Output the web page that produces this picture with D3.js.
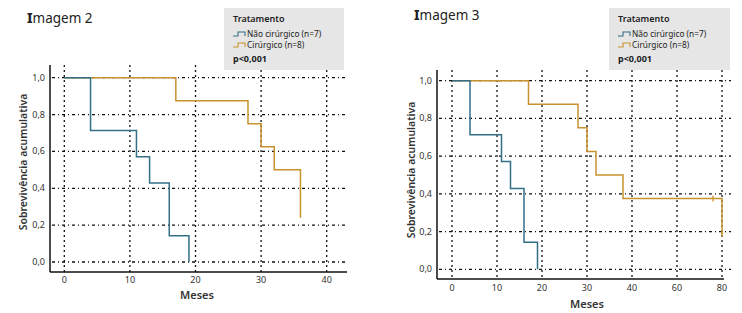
<!DOCTYPE html>
<html>
<head>
<meta charset="utf-8">
<script src="https://cdn.jsdelivr.net/npm/d3@7"></script>
<style>
  body { margin: 0; background: #fff; }
  svg { font-family: "Noto Sans", "DejaVu Sans", sans-serif; }
</style>
</head>
<body>
<svg id="chart" width="742" height="313"></svg>
<script>
// dados
const yTicks = [0, 0.2, 0.4, 0.6, 0.8, 1.0];
const xTicksA = [0, 10, 20, 30, 40];
const xTicksB = [0, 10, 20, 30, 40, 60, 80];

// Não cirúrgico (n=7)
const naoCirTempo = [0, 4, 11, 13, 16, 19];
const naoCirSobrev = [1, 0.714, 0.571, 0.429, 0.143, 0];

// Cirúrgico (n=8) - Imagem 2
const cirTempoA = [0, 17, 28, 30, 32, 36];
const cirSobrevA = [1, 0.875, 0.75, 0.625, 0.5, 0.24];

// Cirúrgico (n=8) - Imagem 3
const cirTempoB = [0, 17, 28, 30, 32, 38, 80];
const cirSobrevB = [1, 0.875, 0.75, 0.625, 0.5, 0.375, 0.1875];
const censuraTempoB = [76, 80];
const censuraSobrevB = [0.375, 0.1875];

const corAzul = "#336f86";
const corLaranja = "#c8922e";

const svg = d3.select("#chart");
const fmt = d => d3.format(".1f")(d).replace(".", ",");

function painel(cfg) {
    const g = svg.append("g");

    const x = d3.scaleLinear().domain(cfg.xDomain).range(cfg.xRange);
    const y = d3.scaleLinear().domain([0, 1]).range([cfg.y0, cfg.y1]);

    // grade vertical
    g.selectAll(".vgrid")
        .data(cfg.xTicks)
        .enter()
        .append("line")
        .attr("x1", d => x(d)).attr("x2", d => x(d))
        .attr("y1", cfg.top).attr("y2", cfg.bottom)
        .attr("stroke", "#111")
        .attr("stroke-width", 1.3)
        .attr("stroke-dasharray", "2,3");

    // grade horizontal
    g.selectAll(".hgrid")
        .data(yTicks)
        .enter()
        .append("line")
        .attr("x1", cfg.left + 2).attr("x2", cfg.gridRight)
        .attr("y1", d => y(d)).attr("y2", d => y(d))
        .attr("stroke", "#111")
        .attr("stroke-width", 1.3)
        .attr("stroke-dasharray", "3,3,1,3");

    // eixos
    g.append("line")
        .attr("x1", cfg.left).attr("x2", cfg.left)
        .attr("y1", cfg.top).attr("y2", cfg.bottom)
        .attr("stroke", "#111").attr("stroke-width", 1.5);
    g.append("line")
        .attr("x1", cfg.left).attr("x2", cfg.right)
        .attr("y1", cfg.bottom).attr("y2", cfg.bottom)
        .attr("stroke", "#111").attr("stroke-width", 1.5);

    // rótulos y
    g.selectAll(".ylab")
        .data(yTicks)
        .enter()
        .append("text")
        .attr("x", cfg.left - 5)
        .attr("y", d => y(d) + 3)
        .attr("text-anchor", "end")
        .style("font-size", "9px")
        .attr("fill", "#333")
        .text(fmt);

    // rótulos x
    g.selectAll(".xlab")
        .data(cfg.xTicks)
        .enter()
        .append("text")
        .attr("x", d => x(d))
        .attr("y", cfg.xLabelY)
        .attr("text-anchor", "middle")
        .style("font-size", "9px")
        .attr("fill", "#333")
        .text(d => d);

    g.append("text")
        .attr("x", cfg.meio)
        .attr("y", cfg.mesesY)
        .attr("text-anchor", "middle")
        .style("font-size", "11px")
        .style("font-weight", "600")
        .attr("fill", "#333")
        .text("Meses");

    g.append("text")
        .attr("transform", `translate(${cfg.yTitleX},${cfg.yTitleY}) rotate(-90)`)
        .attr("text-anchor", "middle")
        .style("font-size", "10.5px")
        .style("font-weight", "600")
        .attr("fill", "#333")
        .text("Sobrevivência acumulativa");

    // curvas
    const linha = d3.line()
        .x(d => x(d[0]))
        .y(d => y(d[1]))
        .curve(d3.curveStepAfter);

    const curvas = [
        { t: cfg.cirTempo, s: cfg.cirSobrev, cor: corLaranja },
        { t: naoCirTempo, s: naoCirSobrev, cor: corAzul }
    ];
    g.selectAll(".curva")
        .data(curvas)
        .enter()
        .append("path")
        .attr("d", c => linha(d3.zip(c.t, c.s)))
        .attr("fill", "none")
        .attr("stroke", c => c.cor)
        .attr("stroke-width", 1.5);

    if (cfg.censuraTempo) {
        g.selectAll(".censura")
            .data(d3.zip(cfg.censuraTempo, cfg.censuraSobrev))
            .enter()
            .append("line")
            .attr("x1", d => x(d[0])).attr("x2", d => x(d[0]))
            .attr("y1", d => y(d[1]) - 3).attr("y2", d => y(d[1]) + 3)
            .attr("stroke", corLaranja)
            .attr("stroke-width", 1.3);
    }

    // título
    const tit = svg.append("text")
        .attr("x", cfg.tituloX)
        .attr("y", cfg.tituloY)
        .style("font-size", "13.5px")
        .attr("fill", "#222");
    tit.append("tspan").style("font-weight", "800").text("I");
    tit.append("tspan").text(cfg.titulo.slice(1));

    // legenda
    const lg = svg.append("g").attr("transform", `translate(${cfg.legX},${cfg.legY})`);
    lg.append("rect")
        .attr("width", cfg.legW).attr("height", 62)
        .attr("fill", "#e6e6e6");
    lg.append("text")
        .attr("x", 9).attr("y", 14)
        .style("font-size", "9px").style("font-weight", "600")
        .attr("fill", "#222")
        .text("Tratamento");
    const itens = [
        { nome: "Não cirúrgico (n=7)", cor: corAzul },
        { nome: "Cirúrgico (n=8)", cor: corLaranja }
    ];
    const it = lg.selectAll(".item")
        .data(itens)
        .enter()
        .append("g")
        .attr("transform", (d, i) => `translate(9,${25 + i * 11})`);
    it.append("path")
        .attr("d", "M0,3H5V-1H12V3")
        .attr("fill", "none")
        .attr("stroke", d => d.cor)
        .attr("stroke-width", 1.1);
    it.append("text")
        .attr("x", 14).attr("y", 3.5)
        .style("font-size", "8.3px")
        .attr("fill", "#222")
        .text(d => d.nome);
    lg.append("text")
        .attr("x", 9).attr("y", 54)
        .style("font-size", "9px").style("font-weight", "700")
        .attr("fill", "#222")
        .text("p<0,001");
}

painel({
    titulo: "Imagem 2", tituloX: 27, tituloY: 23,
    xDomain: [0, 40], xRange: [64.3, 326.7], xTicks: xTicksA,
    y0: 262, y1: 77.7,
    left: 50, right: 347, top: 65, bottom: 272, gridRight: 346,
    xLabelY: 283, mesesY: 299, meio: 197,
    yTitleX: 27, yTitleY: 162,
    cirTempo: cirTempoA, cirSobrev: cirSobrevA,
    legX: 224, legY: 8, legW: 120
});

painel({
    titulo: "Imagem 3", tituloX: 414, tituloY: 20,
    xDomain: [0, 40, 80], xRange: [452, 632, 722], xTicks: xTicksB,
    y0: 269.3, y1: 80.7,
    left: 437, right: 724, top: 70, bottom: 279, gridRight: 731,
    xLabelY: 291, mesesY: 308, meio: 587,
    yTitleX: 415, yTitleY: 170,
    cirTempo: cirTempoB, cirSobrev: cirSobrevB,
    censuraTempo: censuraTempoB, censuraSobrev: censuraSobrevB,
    legX: 609, legY: 8, legW: 121
});
</script>
</body>
</html>
